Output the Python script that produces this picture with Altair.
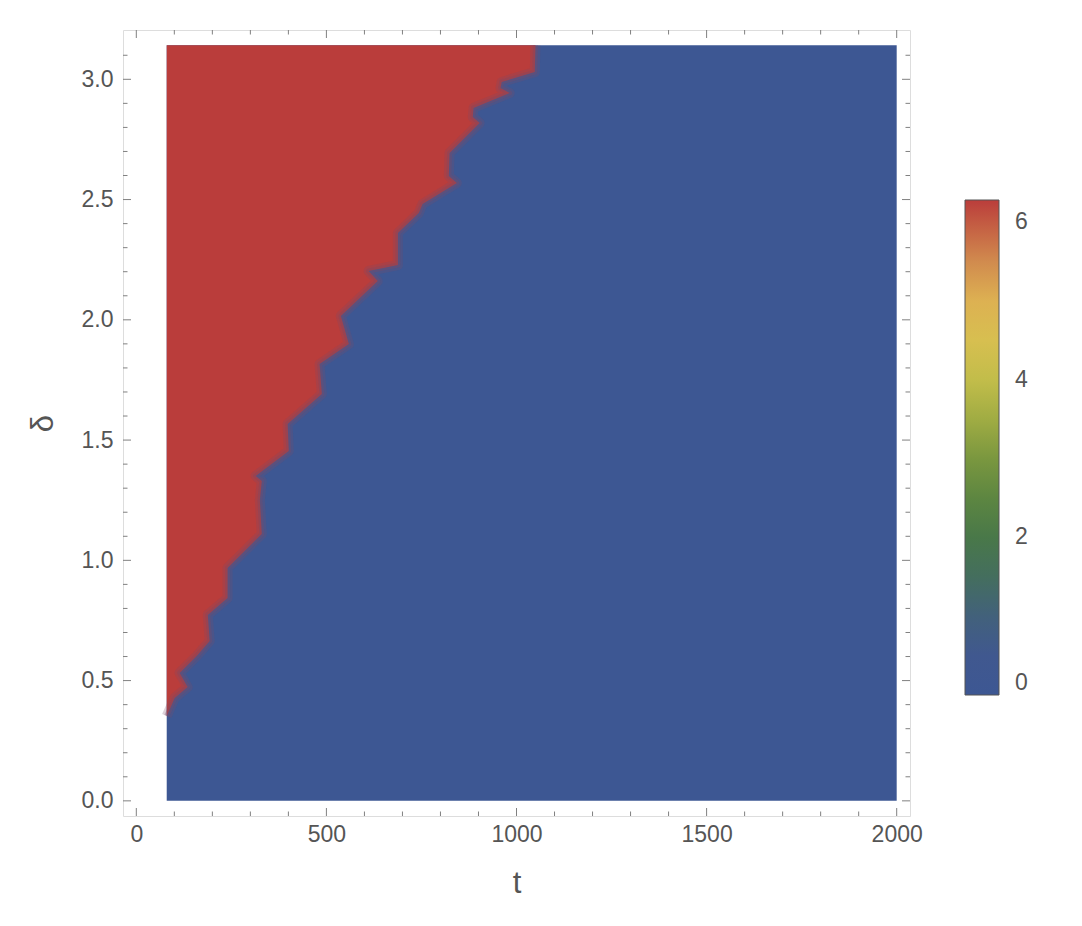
import math
import altair as alt
import pandas as pd

PI = math.pi

# Extent of the density data
t_range = [80, 2000]
delta_range = [0.0, PI]

# Boundary of the region whose value is 2π (red); for each δ the t up to which it is red
delta_b = [0.353, 0.428, 0.473, 0.532, 0.602, 0.665, 0.773, 0.843, 0.968, 1.109,
           1.251, 1.330, 1.351, 1.455, 1.567, 1.692, 1.816, 1.899, 2.016, 2.161,
           2.203, 2.228, 2.361, 2.444, 2.482, 2.569, 2.598, 2.694, 2.818, 2.843,
           2.881, 2.943, 2.964, 2.989, 3.030, 3.1416]
t_b = [80, 101, 135, 114, 159, 193, 188, 240, 240, 330,
       325, 330, 314, 401, 398, 488, 482, 559, 538, 635,
       611, 688, 688, 743, 753, 843, 822, 824, 903, 885,
       887, 982, 958, 961, 1048, 1050]

low_value = 0.0
high_value = 2 * PI

# Tick values
x_major = [0, 500, 1000, 1500, 2000]
x_minor = [v for v in range(100, 2000, 100) if v % 500 != 0]
y_major = [0.0, 0.5, 1.0, 1.5, 2.0, 2.5, 3.0]
y_minor = [round(i / 10, 1) for i in range(1, 32) if i % 5 != 0]
legend_labels = [0, 2, 4, 6]

# DarkRainbow colour stops
dark_rainbow = ["#3D5793", "#41588E", "#436C62", "#4A7A45", "#6A8E3E",
                "#9FAC43", "#CFC34D", "#E0BA53", "#CF844D", "#BA3D3B"]
color_domain = [high_value * i / (len(dark_rainbow) - 1) for i in range(len(dark_rainbow))]

W, H = 787, 786
TXT = "#555555"
TICK = "#808080"
FONT = "Liberation Sans"

xs = alt.Scale(domain=[-35, 2035], nice=False, zero=False)
ys = alt.Scale(domain=[-0.063, 3.205], nice=False, zero=False)
cs = alt.Scale(domain=color_domain, range=dark_rainbow, interpolate="rgb")

x_axis = alt.Axis(
    values=x_major, format="d", title="t", ticks=False, domain=False, grid=False,
    labelFontSize=23, labelColor=TXT, labelFont=FONT, labelPadding=7,
    titleFontSize=31, titleColor=TXT, titleFont=FONT, titleFontWeight="normal",
    titlePadding=22)
y_axis = alt.Axis(
    values=y_major, format=".1f", title="δ", ticks=False, domain=False, grid=False,
    labelFontSize=23, labelColor=TXT, labelFont=FONT, labelPadding=10,
    titleFontSize=31, titleColor=TXT, titleFont=FONT, titleFontWeight="normal",
    titlePadding=22)

bg_df = pd.DataFrame({"t0": [t_range[0]], "t1": [t_range[1]],
                      "d0": [delta_range[0]], "d1": [delta_range[1]],
                      "v": [low_value]})

bg = alt.Chart(bg_df).mark_rect().encode(
    x=alt.X("t0:Q", scale=xs, axis=x_axis),
    x2="t1:Q",
    y=alt.Y("d0:Q", scale=ys, axis=y_axis),
    y2="d1:Q",
    color=alt.Color("v:Q", scale=cs, legend=alt.Legend(
        title=None, orient="none", legendX=842, legendY=170, direction="vertical",
        gradientLength=495, gradientThickness=34, values=legend_labels,
        labelFontSize=23, labelColor=TXT, labelFont=FONT, labelOffset=16,
        labelBaseline="middle",
        labelOverlap=False, gradientStrokeColor="#555555", gradientStrokeWidth=1,
        padding=0)),
)

area_df = pd.DataFrame({"delta": delta_b, "tb": t_b,
                        "tstart": [t_range[0]] * len(t_b)})

red = alt.Chart(area_df).mark_area(orient="horizontal", color="#BA3D3B").encode(
    y=alt.Y("delta:Q", scale=ys, axis=y_axis),
    x=alt.X("tb:Q", scale=xs, axis=x_axis),
    x2="tstart:Q",
)

# soft transition along the boundary (interpolation blur)
edge_layers = []
for width, op in [(10, 0.25), (5, 0.35)]:
    edge_layers.append(alt.Chart(area_df).mark_line(
        color="#7C4A68", strokeWidth=width, opacity=op, strokeJoin="round", strokeCap="butt"
    ).encode(
        y=alt.Y("delta:Q", scale=ys, axis=y_axis),
        x=alt.X("tb:Q", scale=xs, axis=x_axis),
        order=alt.Order("delta:Q"),
    ))


def xticks(vals, length):
    df = pd.DataFrame({"tt": vals})
    b = alt.Chart(df)
    bot = b.mark_rule(color=TICK, strokeWidth=1).encode(
        x=alt.X("tt:Q", scale=xs, axis=x_axis), y=alt.value(H), y2=alt.value(H - length))
    top = b.mark_rule(color=TICK, strokeWidth=1).encode(
        x=alt.X("tt:Q", scale=xs, axis=x_axis), y=alt.value(0), y2=alt.value(length))
    return [bot, top]


def yticks(vals, length):
    df = pd.DataFrame({"dd": vals})
    b = alt.Chart(df)
    left = b.mark_rule(color=TICK, strokeWidth=1).encode(
        y=alt.Y("dd:Q", scale=ys, axis=y_axis), x=alt.value(0), x2=alt.value(length))
    right = b.mark_rule(color=TICK, strokeWidth=1).encode(
        y=alt.Y("dd:Q", scale=ys, axis=y_axis), x=alt.value(W), x2=alt.value(W - length))
    return [left, right]


layers = [bg, red] + edge_layers
layers += xticks(x_major, 8) + xticks(x_minor, 4.5)
layers += yticks(y_major, 8) + yticks(y_minor, 4.5)

chart = alt.layer(*layers).properties(
    width=W, height=H,
    autosize=alt.AutoSizeParams(type="none"),
    padding={"left": 115, "top": 22, "right": 150, "bottom": 95},
).configure_view(stroke="#aaaaaa", strokeWidth=1).configure(background="white")

chart.save("out.html", embed_options={"renderer": "svg", "actions": False})
